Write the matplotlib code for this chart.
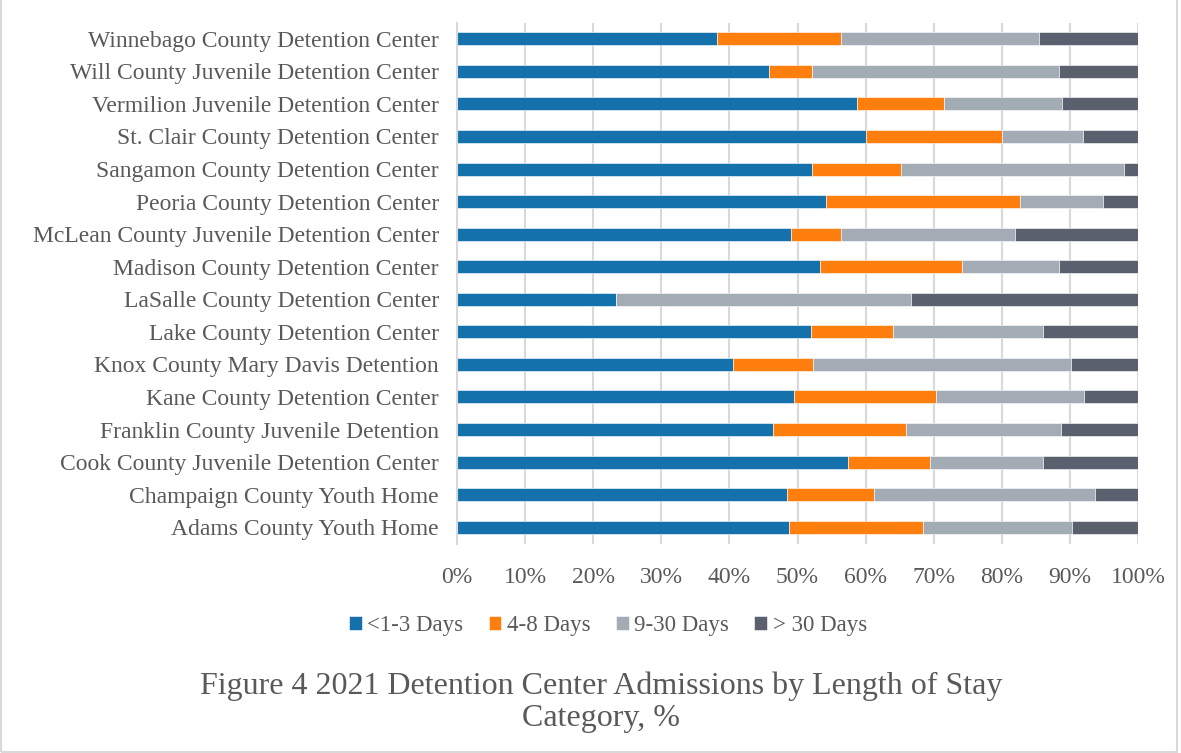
import matplotlib.pyplot as plt
from matplotlib.patches import Rectangle

centers = ["Winnebago County Detention Center",
           "Will County Juvenile Detention Center",
           "Vermilion Juvenile Detention Center",
           "St. Clair County Detention Center",
           "Sangamon County Detention Center",
           "Peoria County Detention Center",
           "McLean County Juvenile Detention Center",
           "Madison County Detention Center",
           "LaSalle County Detention Center",
           "Lake County Detention Center",
           "Knox County Mary Davis Detention",
           "Kane County Detention Center",
           "Franklin County Juvenile Detention",
           "Cook County Juvenile Detention Center",
           "Champaign County Youth Home",
           "Adams County Youth Home"]

days_1_3 = [38.2, 45.8, 58.7, 60.0, 52.2, 54.2, 49.1, 53.3, 23.3, 52.0, 40.5, 49.5, 46.4, 57.4, 48.4, 48.8]
days_4_8 = [18.2, 6.4, 12.8, 20.0, 13.0, 28.4, 7.3, 20.8, 0.0, 12.0, 11.8, 20.8, 19.5, 12.0, 12.9, 19.6]
days_9_30 = [29.1, 36.2, 17.4, 11.9, 32.8, 12.3, 25.5, 14.3, 43.4, 22.1, 37.8, 21.7, 22.8, 16.7, 32.4, 21.9]
days_30p = [14.5, 11.6, 11.1, 8.1, 2.0, 5.1, 18.1, 11.6, 33.3, 13.9, 9.9, 8.0, 11.3, 13.9, 6.3, 9.7]

series = [("<1-3 Days", days_1_3, "#1471ab"),
          ("4-8 Days", days_4_8, "#fe7f0e"),
          ("9-30 Days", days_9_30, "#a3abb5"),
          ("> 30 Days", days_30p, "#5a606d")]

plt.rcParams['font.family'] = ['Liberation Serif', 'DejaVu Serif']
txt = "#595959"

fig = plt.figure(figsize=(11.81, 7.53), dpi=100)
ax = fig.add_axes([457 / 1181, 1 - 543.5 / 753, (1138 - 457) / 1181, (543.5 - 22.5) / 753])

ypos = list(range(len(centers)))[::-1]
left = [0.0] * len(centers)
for name, vals, col in series:
    ax.barh(ypos, vals, left=left, height=0.4, color=col, label=name,
            edgecolor="white", linewidth=0.4)
    left = [a + b for a, b in zip(left, vals)]

ax.set_xlim(0, 100)
ax.set_ylim(-0.5, len(centers) - 0.5)
ax.set_yticks(ypos)
ax.set_yticklabels(centers, fontsize=17, color=txt)
ax.set_xticks(range(0, 101, 10))
ax.set_xticklabels([f"{v}%" for v in range(0, 101, 10)], fontsize=17, color=txt)
ax.tick_params(axis='y', length=0, pad=13)
ax.tick_params(axis='x', length=0, pad=17)
ax.grid(axis='x', color="#d9d9d9", linewidth=1.5)
ax.set_axisbelow(True)
for s in ["top", "right", "bottom"]:
    ax.spines[s].set_visible(False)
ax.spines["left"].set_color("#d9d9d9")
ax.spines["left"].set_linewidth(1.5)

fig.legend(loc="center", bbox_to_anchor=(608 / 1181, 1 - 626 / 753), ncol=4,
           frameon=False, fontsize=16.5, labelcolor=txt, handlelength=0.55,
           handleheight=0.55, handletextpad=0.25, columnspacing=1.1)

fig.text(601 / 1181, 1 - 702 / 753, "Figure 4 2021 Detention Center Admissions by Length of Stay\nCategory, %",
         ha="center", va="center", fontsize=23, color=txt, linespacing=1.15)

fig.patches.append(Rectangle((0.001, 0.001), 0.996, 1.2, transform=fig.transFigure,
                             fill=False, edgecolor="#d9d9d9", linewidth=1.5))

fig.savefig("out.png", dpi=100)
